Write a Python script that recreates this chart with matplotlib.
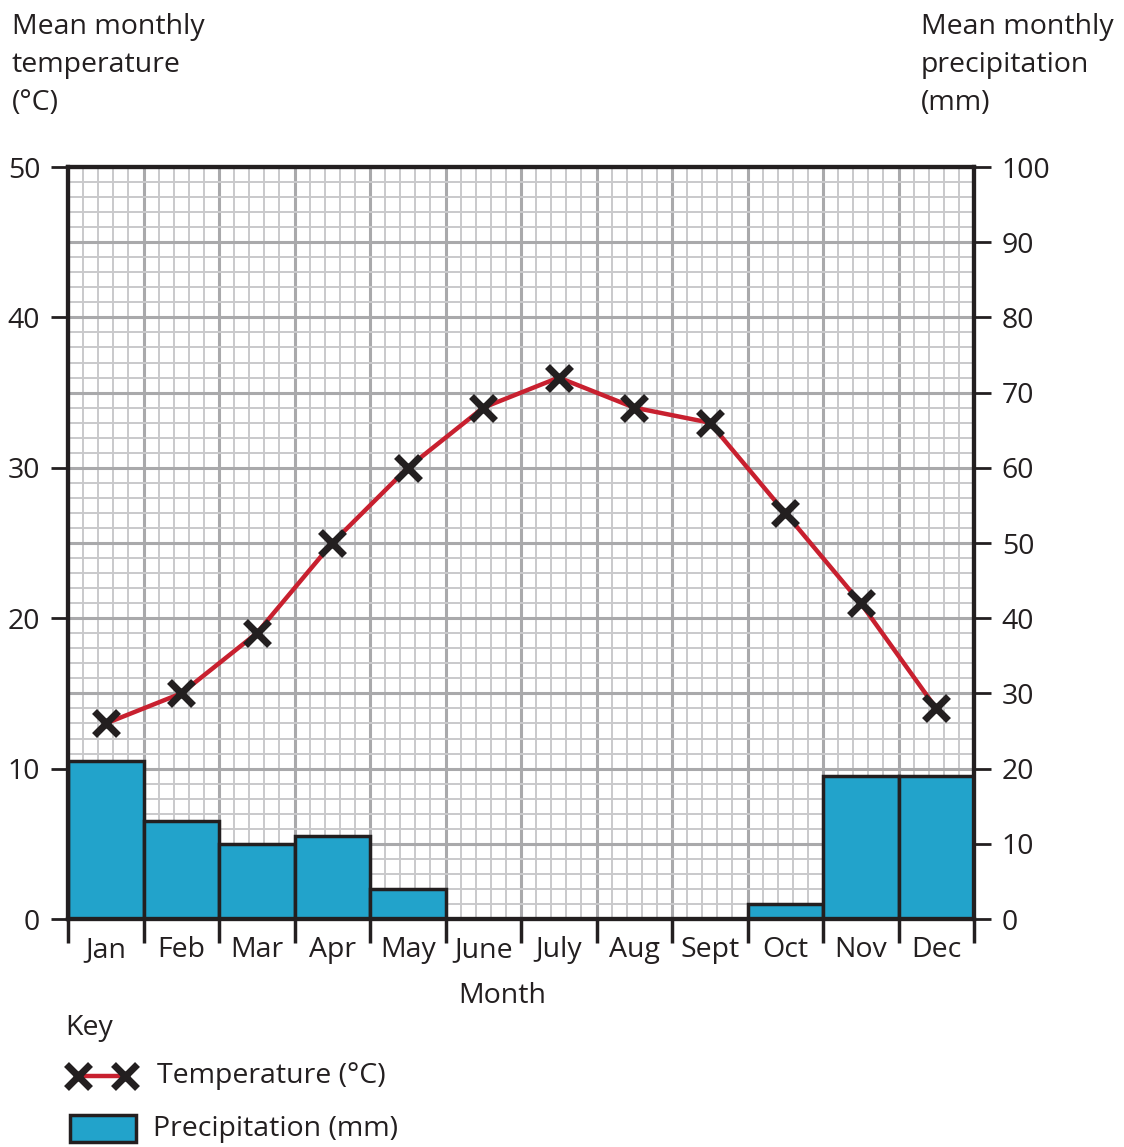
import numpy as np
import matplotlib
matplotlib.use("Agg")
from matplotlib import pyplot as plt
from matplotlib.patches import Rectangle
from matplotlib.lines import Line2D

plt.rcParams['font.family'] = ['Open Sans', 'DejaVu Sans']

# data
months = ['Jan', 'Feb', 'Mar', 'Apr', 'May', 'June', 'July', 'Aug', 'Sept', 'Oct', 'Nov', 'Dec']
temperature = [13, 15, 19, 25, 30, 34, 36, 34, 33, 27, 21, 14]
precipitation = [21, 13, 10, 11, 4, 0, 0, 0, 0, 2, 19, 19]
temp_ticks = [0, 10, 20, 30, 40, 50]
prec_ticks = [0, 10, 20, 30, 40, 50, 60, 70, 80, 90, 100]

ink = '#231f20'
bar_blue = '#22a3cb'
line_red = '#c8202f'
fs = 20.5

fig = plt.figure(figsize=(11.24, 11.47), dpi=100)
ax = fig.add_axes([68/1124, 1-919/1147, (974-68)/1124, (919-167)/1147])
ax2 = ax.twinx()

x = np.arange(len(months))
ax.set_xlim(-0.5, len(months)-0.5)
ax.set_ylim(0, 50)
ax2.set_ylim(0, 100)

#graph paper grid on the back axes
for v in np.arange(-0.5, len(months)-0.5+0.01, 0.2):
    major = abs((v+0.5) - round(v+0.5)) < 1e-6
    ax2.axvline(v, color='#a9a9ab' if major else '#c9c9cb', lw=2.2 if major else 1.4, zorder=0)
for v in range(0, 101, 2):
    major = v % 10 == 0
    ax2.axhline(v, color='#a9a9ab' if major else '#c9c9cb', lw=2.2 if major else 1.4, zorder=0)

ax2.bar(x, precipitation, width=1.0, color=bar_blue, edgecolor=ink, linewidth=2.5, zorder=2)

#temperature axis on top
ax.set_zorder(ax2.get_zorder()+1)
ax.patch.set_visible(False)
ax.plot(x, temperature, color=line_red, lw=3.2, zorder=3)
ax.plot(x, temperature, ls='none', marker='x', ms=17, mew=5, color=ink, zorder=4)

for a in (ax, ax2):
    for s in a.spines.values():
        s.set_linewidth(3)
        s.set_color(ink)

ax.set_yticks(temp_ticks)
ax.set_yticklabels([str(t) for t in temp_ticks], fontsize=fs, color=ink)
ax2.set_yticks(prec_ticks)
ax2.set_yticklabels([str(t) for t in prec_ticks], fontsize=fs, color=ink)
ax.tick_params(axis='y', length=12, width=2, color=ink, pad=8)
ax2.tick_params(axis='y', length=12, width=2, color=ink, pad=8)

ax.set_xticks(np.arange(-0.5, len(months)-0.5+0.01, 1.0))
ax.set_xticklabels([])
ax.tick_params(axis='x', length=17, width=2.5, color=ink)
for i, m in enumerate(months):
    ax.text(i, -0.023, m, transform=ax.get_xaxis_transform(), ha='center', va='top',
            fontsize=fs, color=ink)

fig.text(502/1124, 1-996/1147, 'Month', ha='center', va='center', fontsize=fs, color=ink)
fig.text(12/1124, 1-13/1147, 'Mean monthly\ntemperature\n(°C)', ha='left', va='top',
         fontsize=fs, color=ink, linespacing=1.47)
fig.text(921/1124, 1-13/1147, 'Mean monthly\nprecipitation\n(mm)', ha='left', va='top',
         fontsize=fs, color=ink, linespacing=1.47)

#key
fig.text(65/1124, 1-1028/1147, 'Key', ha='left', va='center', fontsize=fs, color=ink)
ky = 1-1076/1147
fig.add_artist(Line2D([78/1124, 125/1124], [ky, ky], color=line_red, lw=3.2))
fig.add_artist(Line2D([78/1124, 125/1124], [ky, ky], ls='none', marker='x', ms=17, mew=5, color=ink))
fig.text(157/1124, ky, 'Temperature (°C)', ha='left', va='center', fontsize=fs, color=ink)
fig.add_artist(Rectangle((70/1124, 1-1142/1147), 66/1124, 27/1147, facecolor=bar_blue,
                         edgecolor=ink, lw=2.5, transform=fig.transFigure))
fig.text(153/1124, 1-1129/1147, 'Precipitation (mm)', ha='left', va='center', fontsize=fs, color=ink)

fig.savefig('out.png', dpi=100)
